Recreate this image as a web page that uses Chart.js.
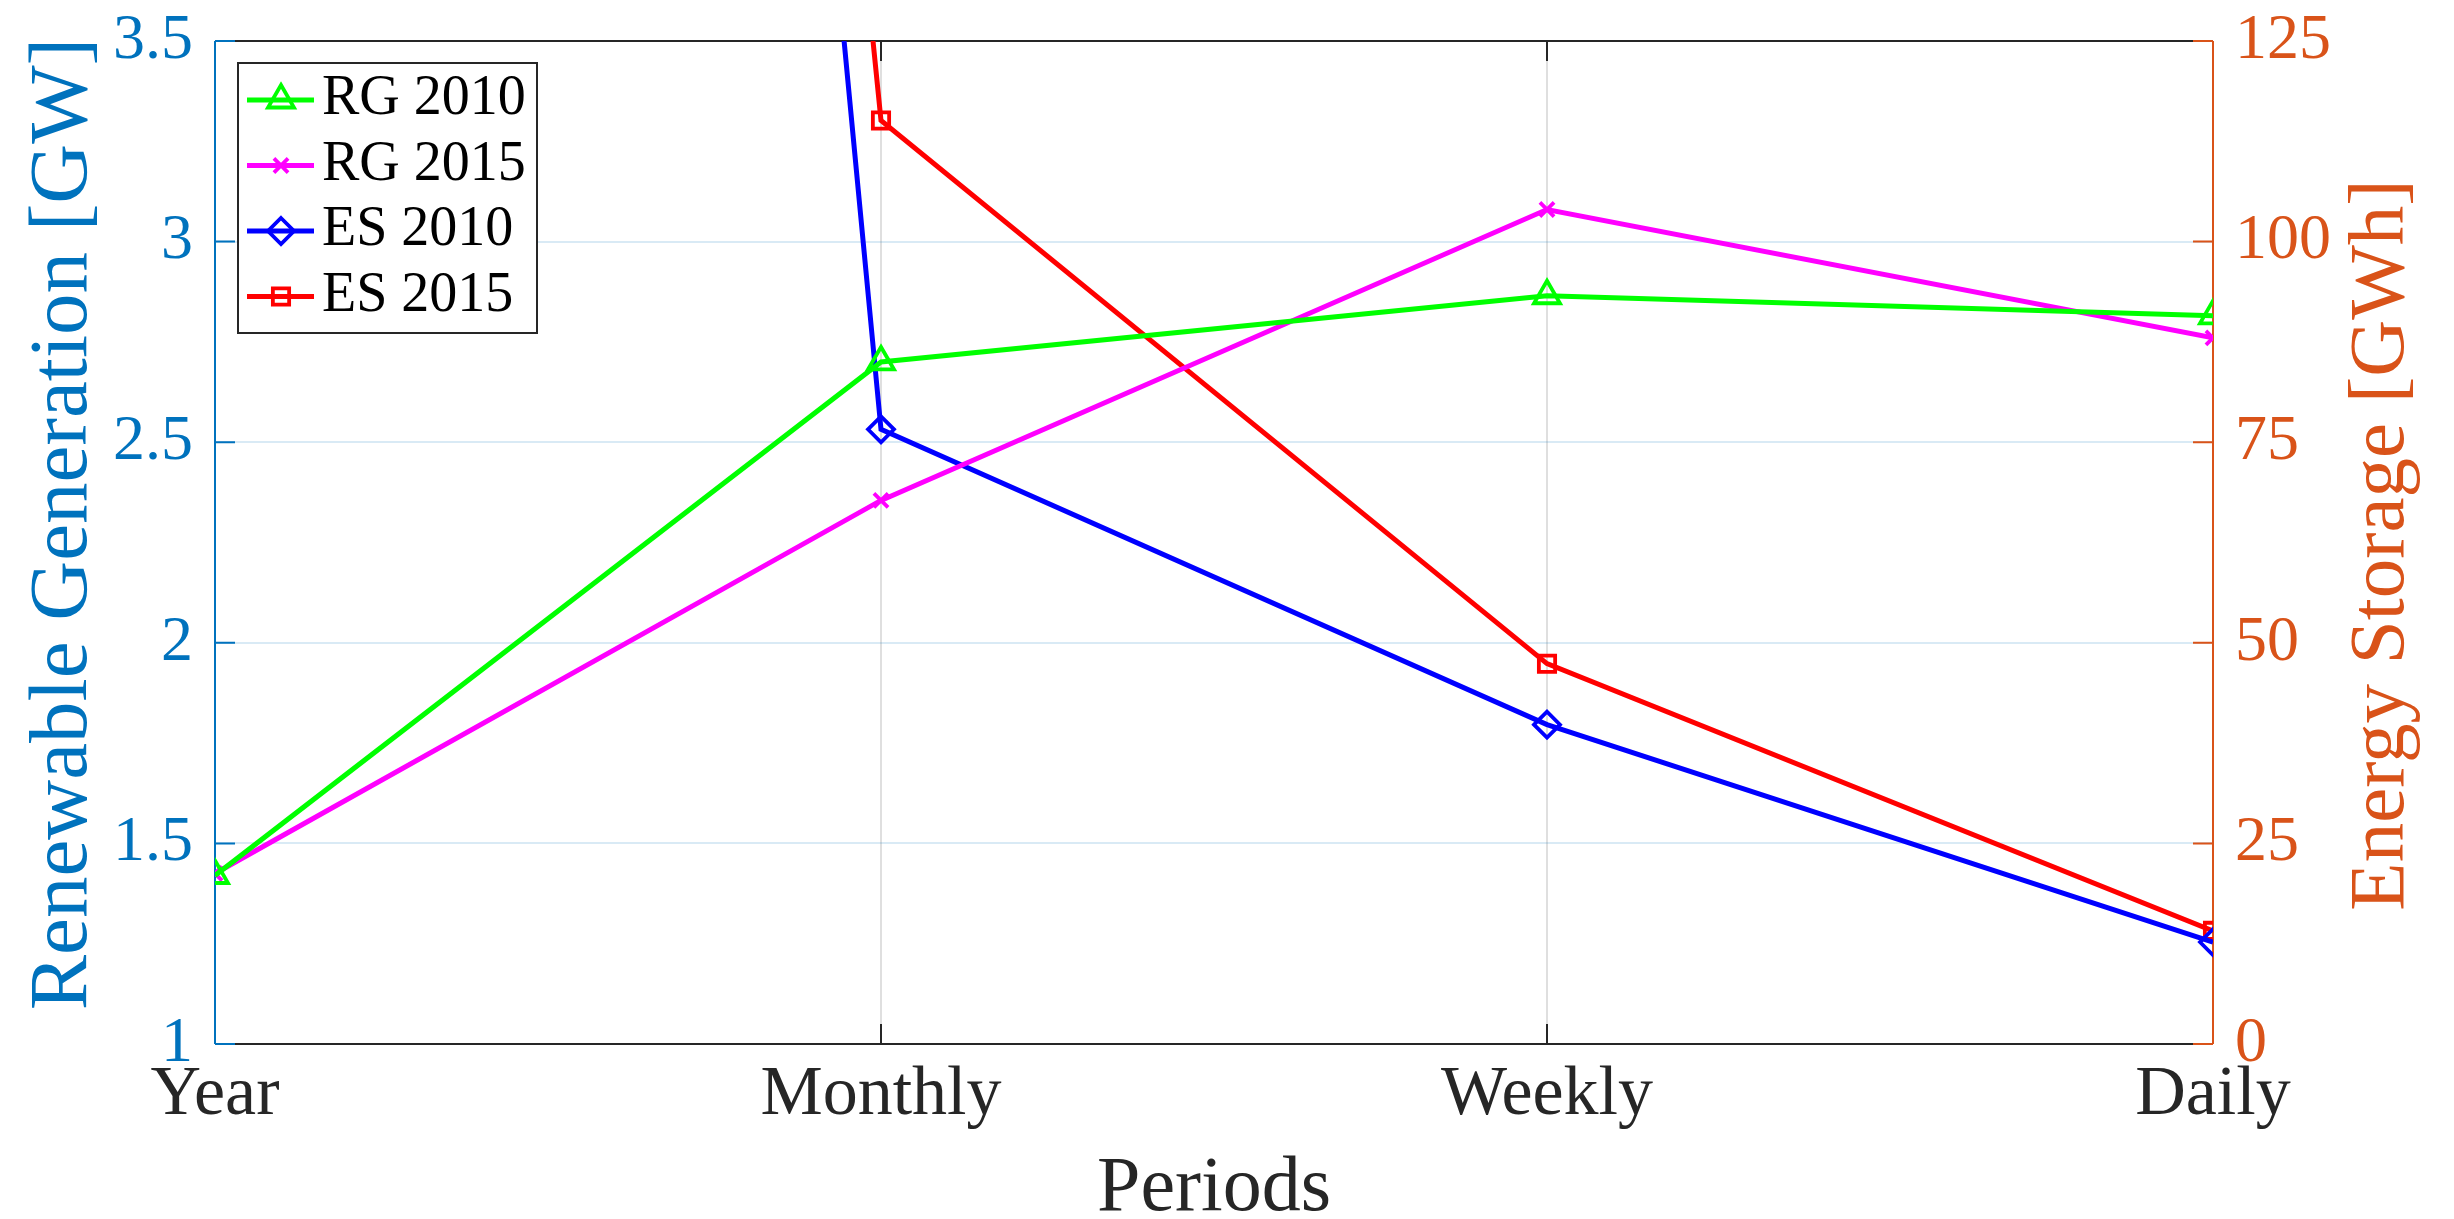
<!DOCTYPE html>
<html><head><meta charset="utf-8">
<script src="https://cdn.jsdelivr.net/npm/chart.js@4.4.1/dist/chart.umd.min.js"></script>
<style>html,body{margin:0;padding:0;background:#fff;}#wrap{width:2454px;height:1219px;position:relative;}</style>
</head><body><div id="wrap"><canvas id="c"></canvas></div>
<script>
const categories = ['Year', 'Monthly', 'Weekly', 'Daily'];
const rg2010 = [1.42, 2.70, 2.865, 2.815];
const rg2015 = [1.425, 2.355, 3.08, 2.76];
const es2010 = [950, 76.6, 39.8, 12.7];
const es2015 = [940, 115.1, 47.4, 14.1];
const leftTicks = [1, 1.5, 2, 2.5, 3, 3.5];
const rightTicks = [0, 25, 50, 75, 100, 125];
const seriesNames = ['RG 2010', 'RG 2015', 'ES 2010', 'ES 2015'];

const FONT = "'Liberation Serif', 'Times New Roman', serif";
const BLUE_AX = '#0072BD';
const ORANGE_AX = '#D95319';
const DARK = '#262626';

const markers = [
  {style: 'triangle', radius: 15, color: '#00FF00'},
  {style: 'crossRot', radius: 10, color: '#FF00FF'},
  {style: 'rectRot', radius: 13, color: '#0000FF'},
  {style: 'rect', radius: 11.5, color: '#FF0000'}
];

function ds(label, data, axis, m) {
  return {
    label, data, yAxisID: axis,
    borderColor: m.color, backgroundColor: 'rgba(0,0,0,0)',
    borderWidth: 5, tension: 0, clip: 0,
    pointStyle: m.style, pointRadius: m.radius, pointBorderWidth: 3.8,
    pointBorderColor: m.color, pointBackgroundColor: 'rgba(0,0,0,0)',
    pointHoverRadius: m.radius
  };
}

function drawMarker(ctx, style, x, y, r) {
  ctx.beginPath();
  if (style === 'triangle') {
    for (let i = 0; i < 3; i++) {
      const a = i * 2 * Math.PI / 3;
      const px = x + Math.sin(a) * r, py = y - Math.cos(a) * r;
      if (i === 0) ctx.moveTo(px, py); else ctx.lineTo(px, py);
    }
    ctx.closePath();
  } else if (style === 'crossRot') {
    const d = r * Math.SQRT1_2;
    ctx.moveTo(x - d, y - d); ctx.lineTo(x + d, y + d);
    ctx.moveTo(x - d, y + d); ctx.lineTo(x + d, y - d);
  } else if (style === 'rectRot') {
    ctx.moveTo(x, y - r); ctx.lineTo(x + r, y); ctx.lineTo(x, y + r); ctx.lineTo(x - r, y); ctx.closePath();
  } else if (style === 'rect') {
    const s = r * Math.SQRT1_2;
    ctx.rect(x - s, y - s, 2 * s, 2 * s);
  }
  ctx.stroke();
}

const frame = {
  id: 'frame',
  beforeDatasetsDraw(chart) {
    const {ctx, chartArea: a, scales} = chart;
    ctx.save();
    ctx.lineWidth = 2;
    const tl = 20;
    ctx.strokeStyle = DARK;
    categories.forEach((c, i) => {
      const px = scales.x.getPixelForValue(i);
      ctx.beginPath();
      ctx.moveTo(px, a.bottom); ctx.lineTo(px, a.bottom - tl);
      ctx.moveTo(px, a.top); ctx.lineTo(px, a.top + tl);
      ctx.stroke();
    });
    ctx.beginPath();
    ctx.moveTo(a.left, a.top); ctx.lineTo(a.right, a.top);
    ctx.moveTo(a.left, a.bottom); ctx.lineTo(a.right, a.bottom);
    ctx.stroke();
    ctx.strokeStyle = BLUE_AX;
    ctx.beginPath();
    ctx.moveTo(a.left, a.top); ctx.lineTo(a.left, a.bottom);
    leftTicks.forEach(v => {
      const py = scales.y.getPixelForValue(v);
      ctx.moveTo(a.left, py); ctx.lineTo(a.left + tl, py);
    });
    ctx.stroke();
    ctx.strokeStyle = ORANGE_AX;
    ctx.beginPath();
    ctx.moveTo(a.right, a.top); ctx.lineTo(a.right, a.bottom);
    rightTicks.forEach(v => {
      const py = scales.y1.getPixelForValue(v);
      ctx.moveTo(a.right, py); ctx.lineTo(a.right - tl, py);
    });
    ctx.stroke();
    ctx.restore();
  },
  afterDatasetsDraw(chart) {
    const {ctx, chartArea: a} = chart;
    ctx.save();
    const bx = a.left + 23, by = a.top + 22, bw = 299, bh = 270;
    ctx.fillStyle = '#fff';
    ctx.fillRect(bx, by, bw, bh);
    ctx.strokeStyle = DARK;
    ctx.lineWidth = 2;
    ctx.strokeRect(bx, by, bw, bh);
    ctx.font = '56px ' + FONT;
    ctx.textBaseline = 'alphabetic';
    ctx.textAlign = 'left';
    seriesNames.forEach((n, i) => {
      const ry = by + 37 + i * 65.5;
      const m = markers[i];
      ctx.strokeStyle = m.color;
      ctx.lineWidth = 5;
      ctx.beginPath(); ctx.moveTo(bx + 9, ry); ctx.lineTo(bx + 76, ry); ctx.stroke();
      ctx.lineWidth = 3.8;
      drawMarker(ctx, m.style, bx + 43, ry, m.radius);
      ctx.fillStyle = '#000';
      ctx.fillText(n, bx + 84, ry + 14);
    });
    ctx.restore();
  },
  afterDraw(chart) {
    const {ctx} = chart;
    ctx.save();
    ctx.font = '83px ' + FONT;
    ctx.textAlign = 'center';
    ctx.textBaseline = 'alphabetic';
    ctx.fillStyle = BLUE_AX;
    ctx.translate(86, 524); ctx.rotate(-Math.PI / 2);
    ctx.fillText('Renewable Generation [GW]', 0, 0);
    ctx.restore();
    ctx.save();
    ctx.font = '79px ' + FONT;
    ctx.textAlign = 'center';
    ctx.textBaseline = 'alphabetic';
    ctx.fillStyle = ORANGE_AX;
    ctx.translate(2403, 545); ctx.rotate(-Math.PI / 2);
    ctx.fillText('Energy Storage [GWh]', 0, 0);
    ctx.restore();
  }
};

new Chart(document.getElementById('c'), {
  type: 'line',
  data: {
    labels: categories,
    datasets: [
      ds(seriesNames[0], rg2010, 'y', markers[0]),
      ds(seriesNames[1], rg2015, 'y', markers[1]),
      ds(seriesNames[2], es2010, 'y1', markers[2]),
      ds(seriesNames[3], es2015, 'y1', markers[3])
    ]
  },
  options: {
    responsive: true, maintainAspectRatio: false, animation: false,
    layout: {padding: {top: 41, left: 0, right: 0, bottom: 0}},
    plugins: {legend: {display: false}, tooltip: {enabled: false}},
    scales: {
      x: {
        type: 'category', offset: false,
        afterFit: s => { s.height = 175; },
        grid: {drawTicks: false, lineWidth: 2,
          color: c => (c.index === 0 || c.index === categories.length - 1) ? 'rgba(0,0,0,0)' : 'rgba(38,38,38,0.15)'},
        border: {display: false},
        ticks: {color: DARK, font: {family: FONT, size: 70}, padding: 10, maxRotation: 0, autoSkip: false},
        title: {display: true, text: 'Periods', color: DARK, font: {family: FONT, size: 78, lineHeight: 1}, padding: {top: 0, bottom: -10}}
      },
      y: {
        position: 'left', min: 1, max: 3.5,
        afterFit: s => { s.width = 215; },
        afterBuildTicks: s => { s.ticks = leftTicks.map(v => ({value: v})); },
        grid: {drawTicks: false, lineWidth: 2,
          color: c => (c.index === 0 || c.index === leftTicks.length - 1) ? 'rgba(0,0,0,0)' : 'rgba(0,114,189,0.15)'},
        border: {display: false},
        ticks: {color: BLUE_AX, font: {family: FONT, size: 64, lineHeight: 0.5}, padding: 22, callback: v => String(v)}
      },
      y1: {
        position: 'right', min: 0, max: 125,
        afterFit: s => { s.width = 241; },
        afterBuildTicks: s => { s.ticks = rightTicks.map(v => ({value: v})); },
        grid: {display: false, drawTicks: false},
        border: {display: false},
        ticks: {color: ORANGE_AX, font: {family: FONT, size: 64, lineHeight: 0.5}, padding: 22, callback: v => String(v)}
      }
    }
  },
  plugins: [frame]
});
</script>
</body></html>
